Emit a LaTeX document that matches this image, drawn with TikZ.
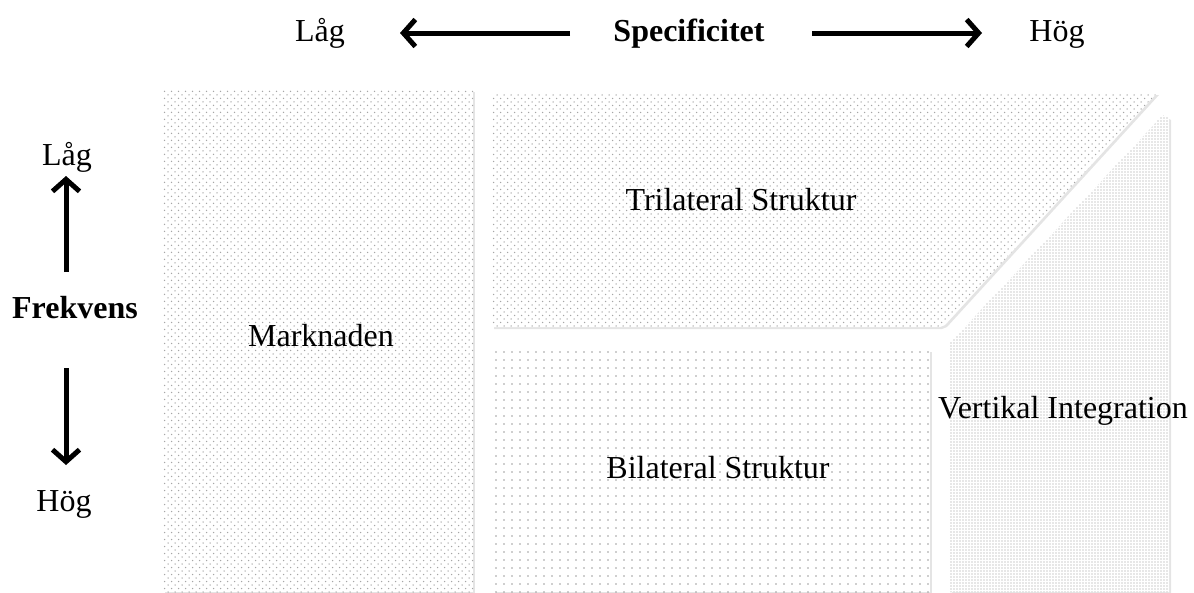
\documentclass[tikz,border=0pt]{standalone}
\usepackage{fontspec}
\setmainfont{Liberation Serif}
\usetikzlibrary{arrows.meta,patterns,patterns.meta,shadows}
\begin{document}
\begin{tikzpicture}[x=1pt,y=-1pt,
  lbl/.style={font=\fontsize{32}{36}\selectfont, anchor=base, inner sep=0pt},
  blbl/.style={anchor=base, inner sep=0pt, font=\fontsize{32}{36}\selectfont\bfseries},
  bigarrow/.style={line width=5pt, -{Straight Barb[length=12pt,width=27pt]}},
  regionbase/.style={fill=white, drop shadow={shadow xshift=2pt, shadow yshift=-2pt, opacity=0.3, fill=black!35}},
  stagA/.style={pattern={Dots[distance=7pt, radius=0.75pt]}, pattern color=black!35},
  stagB/.style={pattern={Dots[distance=7pt, radius=0.75pt, xshift=3.5pt, yshift=3.5pt]}, pattern color=black!35},
  sparsedots/.style={pattern={Dots[distance=8pt, radius=0.8pt]}, pattern color=black!38},
  densedots/.style={pattern={Dots[distance=3pt, radius=0.7pt]}, pattern color=black!40}
]
\useasboundingbox (0,0) rectangle (1194,592);

% regions
\path[regionbase] (163,90) rectangle (473,592);
\path[stagA] (163,90) rectangle (473,592);
\path[stagB] (163,90) rectangle (473,592);

\path[regionbase] (492,93) -- (1157,93) -- (945,325) -- (940,327) -- (492,327) -- cycle;
\path[stagA] (492,93) -- (1157,93) -- (945,325) -- (940,327) -- (492,327) -- cycle;
\path[stagB] (492,93) -- (1157,93) -- (945,325) -- (940,327) -- (492,327) -- cycle;

\path[regionbase] (494,350) rectangle (930,592);
\path[sparsedots] (494,350) rectangle (930,592);

\path[regionbase] (950,343) -- (1163,115) -- (1169,118) -- (1169,592) -- (950,592) -- cycle;
\path[densedots] (950,343) -- (1163,115) -- (1169,118) -- (1169,592) -- (950,592) -- cycle;

% labels
\node[lbl] (lagtop) at (320,41) {Låg};
\node[blbl] (spec) at (689,41) {Specificitet};
\node[lbl] (hogtop) at (1057,41) {Hög};
\node[lbl] (lagleft) at (67,165) {Låg};
\node[blbl] (frek) at (75,318) {Frekvens};
\node[lbl] (hogleft) at (64,511) {Hög};
\node[lbl] (mark) at (321,346) {Marknaden};
\node[lbl] (tri) at (741,210) {Trilateral Struktur};
\node[lbl] (bil) at (718,478) {Bilateral Struktur};
\node[lbl] (vert) at (1063,418) {Vertikal Integration};

% arrows
\coordinate (la1) at (570,33);
\coordinate (la2) at (400,33);
\coordinate (ra1) at (812,33);
\coordinate (ra2) at (982,33);
\coordinate (ua1) at (66,272);
\coordinate (ua2) at (66,176);
\coordinate (da1) at (66,368);
\coordinate (da2) at (66,465);
\draw[bigarrow] (la1) -- (la2);
\draw[bigarrow] (ra1) -- (ra2);
\draw[bigarrow] (ua1) -- (ua2);
\draw[bigarrow] (da1) -- (da2);
\end{tikzpicture}
\end{document}
